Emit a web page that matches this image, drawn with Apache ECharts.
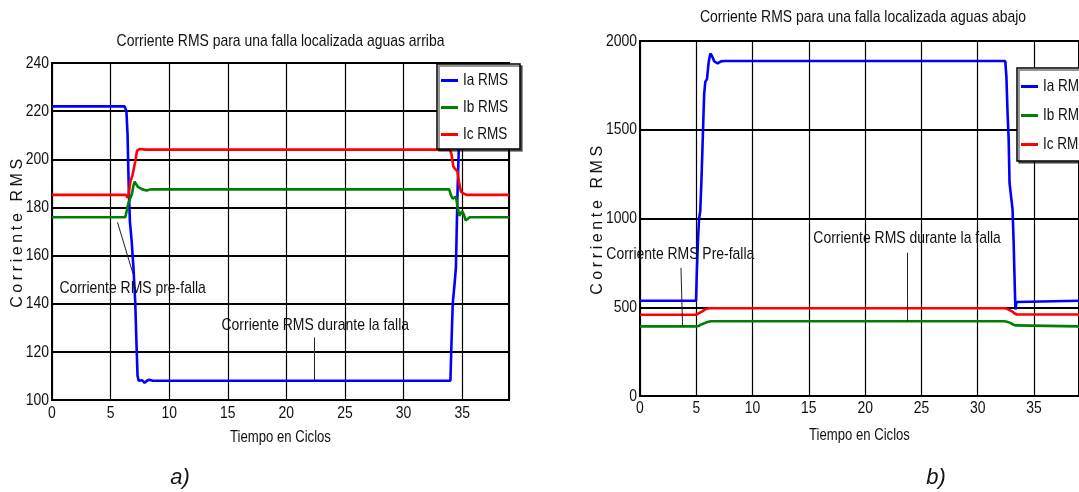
<!DOCTYPE html>
<html>
<head>
<meta charset="utf-8">
<script src="https://cdn.jsdelivr.net/npm/echarts@6/dist/echarts.min.js"></script>
<style>
html,body{margin:0;padding:0;background:#fff;}
#chart{width:1079px;height:492px;}
</style>
</head>
<body>
<div id="chart"></div>
<script>
// ---------- DATA ----------
const titleLeft = 'Corriente RMS para una falla localizada aguas arriba';
const titleRight = 'Corriente RMS para una falla localizada aguas abajo';
const yName = 'Corriente RMS';
const xName = 'Tiempo en Ciclos';
const seriesNames = ['Ia RMS', 'Ib RMS', 'Ic RMS'];
const panelLabels = ['a)', 'b)'];

// Left panel (aguas arriba): [ciclo, corriente]
const leftIa = [[0,222],[6.2,222],[6.35,220],[6.45,210],[6.55,188],[6.65,174],[6.8,166],[6.95,155],[7.1,141],[7.2,125],[7.3,110],[7.4,108],[7.7,108.2],[7.9,107.1],[8.1,108],[8.3,108.4],[8.6,108],
  [34.0,108],[34.1,125],[34.2,140],[34.35,148],[34.47,155],[34.6,185],[34.76,212],[34.9,220],[35.05,222],[39,222]];
const leftIb = [[0,175.9],[6.25,175.9],[6.4,179],[6.53,182],[6.68,181.4],[6.82,185.6],[6.95,189],[7.05,190.7],[7.2,189.5],[7.34,188.5],[7.7,187.5],[8.08,187],[8.4,187.5],
  [33.9,187.5],[34.05,185],[34.2,183.6],[34.47,184.5],[34.62,180],[34.76,176.5],[35.0,178.5],[35.15,177],[35.3,174.6],[35.65,175.9],[39,175.9]];
const leftIc = [[0,185.2],[6.3,185.2],[6.45,184],[6.55,186],[6.7,191],[6.85,193],[7.0,193.5],[7.1,199],[7.25,203.5],[7.5,204.3],[8.0,204],[8.5,204],
  [33.95,204],[34.1,202],[34.25,197],[34.4,196],[34.6,195],[34.75,190],[34.9,186.5],[35.1,185.8],[35.4,185.2],[39,185.2]];

// Right panel (aguas abajo)
const rightIa = [[0,537],[4.98,537],[5.05,700],[5.15,880],[5.25,1000],[5.35,1040],[5.45,1200],[5.6,1500],[5.7,1700],[5.8,1770],[5.95,1785],[6.1,1880],[6.25,1929],[6.4,1915],[6.6,1885],[6.9,1874],[7.2,1885],[7.5,1887],
  [32.45,1887],[32.55,1800],[32.65,1600],[32.75,1450],[32.83,1200],[32.9,1160],[33.0,1150],[33.1,1050],[33.2,850],[33.3,600],[33.35,487],[33.45,530],[33.55,537],[39,537]];
const rightIb = [[0,392],[4.95,392],[5.2,394],[5.4,402],[5.6,407],[5.9,415],[6.3,421],
  [32.37,421],[32.6,418],[32.9,412],[33.1,404],[33.33,398],[33.5,392],[39,392]];
const rightIc = [[0,458],[4.95,458],[5.2,465],[5.53,477],[5.8,488],[6.11,494],
  [32.46,494],[32.7,488],[33.04,477],[33.25,466],[33.47,459],[39,459]];

// Annotations: texts at [ciclo, corriente], arrows from -> to
const leftNotes = [
  {text: 'Corriente RMS pre-falla', at: [6.88, 146.5]},
  {text: 'Corriente RMS durante la falla', at: [22.47, 131]}
];
const leftArrows = [[[6.91,152.5],[5.59,173.8]], [[22.4,126],[22.4,108.3]]];
const rightNotes = [
  {text: 'Corriente RMS Pre-falla', at: [3.58, 797]},
  {text: 'Corriente RMS durante la falla', at: [23.73, 891]}
];
const rightArrows = [[[3.64,722],[3.78,395]], [[23.78,807],[23.75,421]]];

const xTicks = {min: 0, max: 39, interval: 5};
const yLeft = {min: 100, max: 240, interval: 20};
const yRight = {min: 0, max: 2000, interval: 500};
const colors = ['#0000ff', '#008000', '#ff0000'];

// ---------- STYLE ----------
const FONT = 'Liberation Sans';
// Emulate a narrow sans (Arial Narrow look): condense glyphs horizontally around the anchor,
// keep the rotated axis name regular with wide tracking, keep the panel letters regular.
(function(){
  const proto = CanvasRenderingContext2D.prototype;
  const orig = proto.fillText;
  const regular = new Set(panelLabels);
  proto.fillText = function(t, x, y, w){
    const s = String(t);
    if (s === yName) {
      this.save();
      if ('letterSpacing' in this) this.letterSpacing = '3.6px';
      orig.call(this, s, x, y);
      this.restore();
      return;
    }
    if (regular.has(s)) { orig.call(this, s, x, y); return; }
    this.save();
    this.translate(x, y);
    this.scale(0.82, 1);
    orig.call(this, s, 0, 0);
    this.restore();
  };
})();

const chart = echarts.init(document.getElementById('chart'), null, {renderer: 'canvas'});

function xAxisFor(gridIndex, nameGap, labelMargin){
  return {
    type: 'value', gridIndex, min: xTicks.min, max: xTicks.max, interval: xTicks.interval,
    name: xName, nameLocation: 'middle', nameGap, nameMoveOverlap: false,
    nameTextStyle: {fontFamily: FONT, fontSize: 16, color: '#111'},
    axisLine: {show: true, onZero: false, lineStyle: {color: '#000', width: 2}},
    axisTick: {show: false},
    axisLabel: {fontFamily: FONT, fontSize: 17, color: '#111', margin: labelMargin, showMaxLabel: false,
      formatter: v => String(v)},
    splitLine: {show: true, lineStyle: {color: '#000', width: 1.2}}
  };
}
function yAxisFor(gridIndex, rng, nameGap){
  return {
    type: 'value', gridIndex, min: rng.min, max: rng.max, interval: rng.interval,
    name: yName, nameLocation: 'middle', nameGap, nameMoveOverlap: false,
    nameTextStyle: {fontFamily: FONT, fontSize: 16, color: '#111'},
    axisLine: {show: true, onZero: false, lineStyle: {color: '#000', width: 2}},
    axisTick: {show: false},
    axisLabel: {fontFamily: FONT, fontSize: 17, color: '#111', margin: 3, formatter: v => String(v)},
    splitLine: {show: true, lineStyle: {color: '#000', width: 2}}
  };
}
function lineSeries(name, data, idx, color, notes, arrows){
  const s = {
    name, type: 'line', data, xAxisIndex: idx, yAxisIndex: idx,
    showSymbol: false, symbol: 'none', smooth: false,
    lineStyle: {color, width: 2.6}, itemStyle: {color},
    emphasis: {disabled: true}, silent: true
  };
  if (notes) {
    s.markPoint = {
      symbol: 'circle', symbolSize: 0, silent: true, animation: false,
      label: {show: true, position: 'inside', formatter: '{b}', fontFamily: FONT, fontSize: 17, color: '#111'},
      data: notes.map(n => ({name: n.text, coord: n.at}))
    };
  }
  if (arrows) {
    s.markLine = {
      symbol: ['none', 'arrow'], symbolSize: [0, 7], silent: true, animation: false,
      label: {show: false},
      lineStyle: {color: '#222', width: 1, type: 'solid'},
      emphasis: {disabled: true},
      data: arrows.map(a => [{coord: a[0]}, {coord: a[1]}])
    };
  }
  return s;
}
function legendFor(left, top, gap, pad){
  return {
    data: seriesNames, orient: 'vertical', left, top,
    icon: 'rect', itemWidth: 17, itemHeight: 3, itemGap: gap, padding: pad,
    backgroundColor: '#fff', borderColor: '#000', borderWidth: 1.5,
    shadowColor: 'rgba(0,0,0,0.55)', shadowOffsetX: 2, shadowOffsetY: 2, shadowBlur: 0,
    textStyle: {fontFamily: FONT, fontSize: 16.5, color: '#111', width: 44},
    selectedMode: false, z: 10
  };
}

const option = {
  animation: false,
  backgroundColor: '#fff',
  title: [
    {text: titleLeft, left: 280.5, top: 32.5, textAlign: 'center', padding: 0,
     textStyle: {fontFamily: FONT, fontSize: 17, fontWeight: 'normal', color: '#111'}},
    {text: titleRight, left: 863, top: 8.5, textAlign: 'center', padding: 0,
     textStyle: {fontFamily: FONT, fontSize: 17, fontWeight: 'normal', color: '#111'}},
    {text: panelLabels[0], left: 180, top: 467, textAlign: 'center', padding: 0,
     textStyle: {fontFamily: FONT, fontSize: 22, fontStyle: 'italic', fontWeight: 'normal', color: '#111'}},
    {text: panelLabels[1], left: 936, top: 467, textAlign: 'center', padding: 0,
     textStyle: {fontFamily: FONT, fontSize: 22, fontStyle: 'italic', fontWeight: 'normal', color: '#111'}}
  ],
  legend: [
    legendFor(437, 64, 10, [8, 2, 6, 4]),
    legendFor(1017, 68, 12, [10, 30, 8, 4])
  ],
  grid: [
    {left: 52, top: 63, width: 457, height: 337, show: true, borderColor: '#000', borderWidth: 2, backgroundColor: '#fff'},
    {left: 640, top: 41, width: 446, height: 355, show: true, borderColor: '#000', borderWidth: 2, backgroundColor: '#fff'}
  ],
  xAxis: [xAxisFor(0, 30, 5), xAxisFor(1, 32, 4)],
  yAxis: [yAxisFor(0, yLeft, 26), yAxisFor(1, yRight, 34)],
  series: [
    lineSeries(seriesNames[0], leftIa, 0, colors[0]),
    lineSeries(seriesNames[1], leftIb, 0, colors[1], leftNotes, leftArrows),
    lineSeries(seriesNames[2], leftIc, 0, colors[2]),
    lineSeries(seriesNames[0], rightIa, 1, colors[0]),
    lineSeries(seriesNames[1], rightIb, 1, colors[1], rightNotes, rightArrows),
    lineSeries(seriesNames[2], rightIc, 1, colors[2])
  ]
};
chart.setOption(option);
</script>
</body>
</html>
